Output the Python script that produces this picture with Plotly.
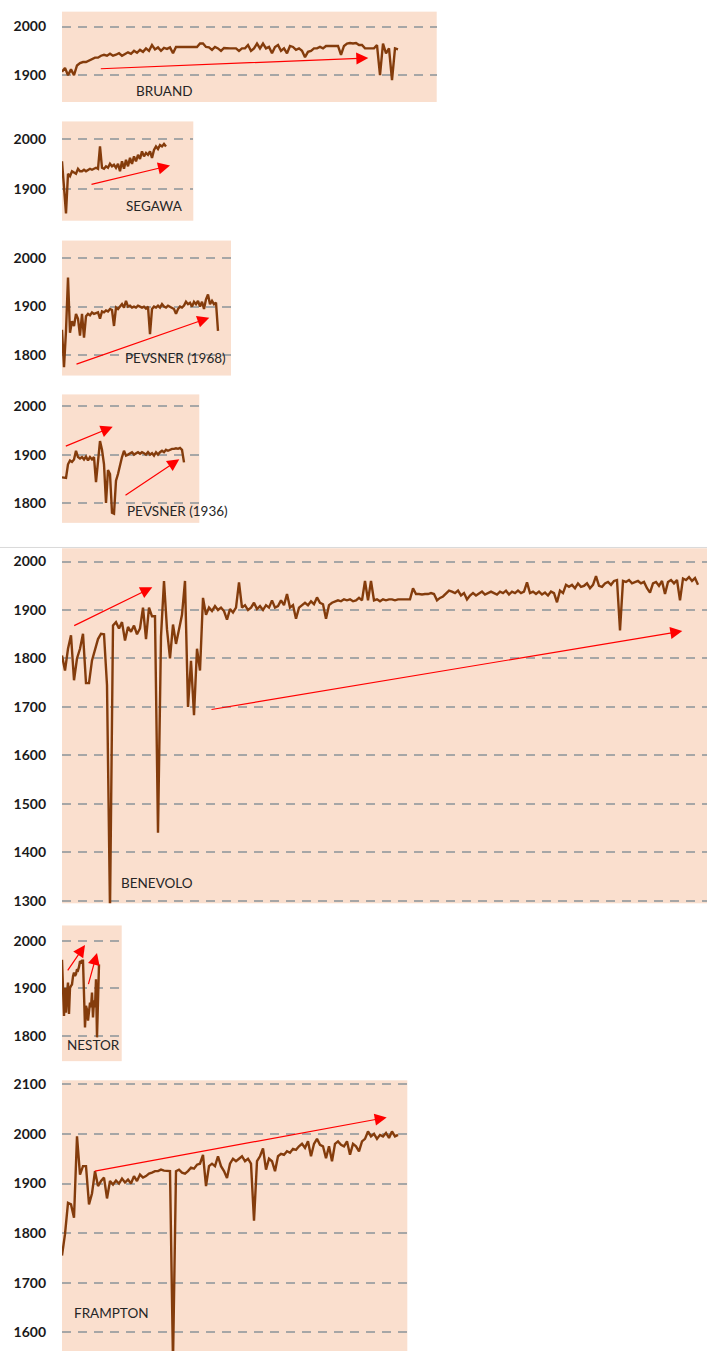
import plotly.graph_objects as go

# ---- yearly series per author, in the order the works are listed ----
bruand = [
    1907, 1915, 1900, 1912, 1900, 1920, 1925, 1927, 1927, 1930,
    1933, 1936, 1936, 1940, 1942, 1940, 1944, 1940, 1942, 1945,
    1940, 1943, 1947, 1944, 1950, 1946, 1952, 1948, 1955, 1950,
    1962, 1953, 1957, 1950, 1956, 1954, 1957, 1945, 1958, 1958,
    1958, 1958, 1958, 1958, 1958, 1958, 1965, 1965, 1958, 1957,
    1952, 1958, 1955, 1950, 1956, 1955, 1955, 1955, 1955, 1950,
    1955, 1955, 1962, 1950, 1955, 1965, 1955, 1965, 1955, 1958,
    1945, 1958, 1962, 1950, 1955, 1945, 1960, 1958, 1952, 1955,
    1950, 1937, 1948, 1950, 1955, 1955, 1958, 1955, 1960, 1960,
    1960, 1960, 1960, 1942, 1960, 1965, 1966, 1965, 1966, 1962,
    1962, 1955, 1955, 1955, 1955, 1962, 1900, 1965, 1945, 1955,
    1890, 1955, 1953,
]

segawa = [
    1955, 1900, 1850, 1930, 1925, 1935, 1932, 1930, 1940, 1935,
    1935, 1938, 1935, 1937, 1940, 1938, 1940, 1942, 1940, 1985,
    1942, 1940, 1945, 1942, 1950, 1945, 1948, 1942, 1950, 1935,
    1955, 1940, 1958, 1945, 1962, 1950, 1965, 1955, 1968, 1960,
    1975, 1965, 1972, 1968, 1975, 1962, 1978, 1985, 1980, 1988,
    1985, 1990, 1985,
]

pevsner_1968 = [
    1852, 1775, 1850, 1960, 1846, 1870, 1860, 1885, 1875, 1840,
    1885, 1836, 1880, 1885, 1882, 1888, 1885, 1886, 1888, 1875,
    1890, 1888, 1892, 1890, 1895, 1893, 1860, 1898, 1895, 1900,
    1905, 1898, 1912, 1900, 1902, 1898, 1900, 1898, 1902, 1900,
    1898, 1900, 1896, 1900, 1843, 1895, 1900, 1898, 1902, 1898,
    1905, 1900, 1898, 1902, 1900, 1898, 1895, 1885, 1895, 1900,
    1898, 1902, 1910, 1905, 1908, 1900, 1910, 1905, 1912, 1900,
    1910, 1895, 1915, 1925, 1905, 1912, 1905, 1908, 1850,
]

pevsner_1936 = [
    1853, 1853, 1852, 1880, 1888, 1885, 1890, 1908, 1895, 1892,
    1895, 1890, 1896, 1888, 1895, 1890, 1895, 1843, 1895, 1928,
    1910, 1880, 1800, 1868, 1860, 1780, 1778, 1846, 1860, 1880,
    1895, 1908, 1898, 1900, 1902, 1905, 1900, 1903, 1905, 1902,
    1905, 1903, 1900, 1905, 1900, 1903, 1898, 1905, 1900, 1905,
    1908, 1905, 1910, 1908, 1910, 1912, 1912, 1913, 1912, 1914,
    1910, 1884,
]

benevolo = [
    1806, 1775, 1820, 1848, 1755, 1800, 1820, 1851, 1749, 1749,
    1796, 1820, 1840, 1851, 1850, 1745, 1280, 1868, 1875, 1862,
    1875, 1837, 1865, 1855, 1868, 1850, 1862, 1905, 1840, 1905,
    1887, 1887, 1440, 1845, 1960, 1860, 1800, 1870, 1830, 1860,
    1890, 1960, 1700, 1795, 1683, 1820, 1775, 1925, 1890, 1905,
    1898, 1908, 1900, 1905, 1898, 1880, 1902, 1895, 1905, 1957,
    1905, 1910, 1900, 1905, 1915, 1902, 1908, 1900, 1910, 1905,
    1920, 1905, 1908, 1920, 1910, 1933, 1905, 1910, 1882, 1905,
    1910, 1915, 1910, 1918, 1912, 1926, 1915, 1912, 1882, 1910,
    1915, 1918, 1920, 1918, 1922, 1920, 1922, 1918, 1920, 1925,
    1920, 1960, 1920, 1960, 1920, 1922, 1918, 1922, 1920, 1922,
    1922, 1920, 1922, 1922, 1922, 1922, 1922, 1945, 1933, 1933,
    1932, 1933, 1933, 1935, 1933, 1920, 1925, 1928, 1935, 1940,
    1938, 1935, 1940, 1930, 1935, 1922, 1930, 1935, 1930, 1935,
    1938, 1932, 1935, 1938, 1935, 1932, 1938, 1935, 1940, 1932,
    1938, 1935, 1940, 1935, 1938, 1957, 1935, 1938, 1933, 1938,
    1932, 1936, 1930, 1938, 1935, 1916, 1940, 1935, 1952, 1948,
    1952, 1945, 1955, 1948, 1950, 1955, 1945, 1952, 1970, 1950,
    1948, 1955, 1958, 1952, 1960, 1962, 1858, 1960, 1958, 1962,
    1955, 1958, 1960, 1955, 1958, 1945, 1936, 1955, 1958, 1950,
    1960, 1933, 1958, 1962, 1955, 1962, 1920, 1965, 1962, 1968,
    1960, 1966, 1952,
]

nestor = [
    1960, 1898, 1842, 1901, 1849, 1890, 1912, 1846, 1901, 1905,
    1908, 1925, 1933, 1926, 1930, 1940, 1938, 1945, 1957, 1955,
    1958, 1958, 1867, 1818, 1863, 1855, 1832, 1860, 1870, 1860,
    1891, 1839, 1875, 1860, 1919, 1797, 1919, 1950,
]

frampton = [
    1755, 1798, 1861, 1858, 1831, 1995, 1918, 1935, 1935, 1858,
    1880, 1925, 1895, 1905, 1912, 1870, 1905, 1898, 1906, 1900,
    1910, 1902, 1908, 1900, 1915, 1905, 1918, 1912, 1915, 1920,
    1922, 1925, 1925, 1928, 1926, 1925, 1925, 1540, 1925, 1928,
    1922, 1920, 1925, 1932, 1930, 1938, 1940, 1958, 1895, 1935,
    1940, 1935, 1955, 1935, 1925, 1911, 1940, 1950, 1945, 1950,
    1955, 1945, 1950, 1940, 1825, 1945, 1955, 1971, 1928, 1950,
    1945, 1925, 1955, 1960, 1958, 1965, 1962, 1970, 1968, 1975,
    1980, 1972, 1985, 1955, 1980, 1990, 1978, 1975, 1951, 1975,
    1945, 1980, 1985, 1978, 1975, 1985, 1958, 1980, 1975, 1965,
    1985, 1990, 2005, 1995, 2000, 1990, 1998, 1995, 2002, 1992,
    2005, 1995, 1998,
]

series = [bruand, segawa, pevsner_1968, pevsner_1936, benevolo, nestor, frampton]
labels = ["BRUAND", "SEGAWA", "PEVSNER (1968)", "PEVSNER (1936)",
          "BENEVOLO", "NESTOR", "FRAMPTON"]
ticks = [
    [1900, 2000],
    [1900, 2000],
    [1800, 1900, 2000],
    [1800, 1900, 2000],
    list(range(1300, 2001, 100)),
    [1800, 1900, 2000],
    list(range(1600, 2101, 100)),
]
y_ranges = [
    (1845, 2030.5), (1835.4, 2035.4), (1757.8, 2036.2), (1758.9, 2024.6),
    (1294.5, 2027.5), (1747, 2032), (1562.6, 2108),
]

# ---- page layout (pixels) ----
W, H = 707, 1356
# plot boxes: left, right, top, bottom
boxes = [
    (62, 436.7, 6.7, 97.7),
    (62, 193.3, 117.3, 217.3),
    (62, 231.0, 237.3, 373.3),
    (62, 199.3, 392.3, 521.7),
    (62, 707.0, 547.3, 905.0),
    (62, 121.7, 927.3, 1064.0),
    (62, 407.3, 1083.3, 1356.0),
]
# horizontal pixels per entry
steps = [3, 2, 2, 2, 3, 1, 3]
# label centres
label_pos = [(164, 87), (154.5, 202.5), (175.5, 355.5), (177.5, 510),
             (157, 885), (93.5, 1048), (111, 1317.5)]
# trend arrows: panel, tail (px), head (px)
arrows = [
    (0, (99.3, 64.3), (368.3, 53.3)),
    (1, (90, 181), (170, 161.7)),
    (2, (75, 362.3), (209.3, 315)),
    (3, (64.3, 445), (112.7, 425)),
    (3, (124, 495), (179.3, 457.7)),
    (4, (72.7, 626), (152.3, 586.7)),
    (4, (210, 710), (682.3, 630.7)),
    (5, (66.7, 974), (85, 947)),
    (5, (88, 988), (97, 955)),
    (6, (93.3, 1175), (386.7, 1120.7)),
]

LINE = "#843C0C"
BG = "#FADFCE"
GRID = "#A6A6A6"

fig = go.Figure()
layout = dict(
    width=W, height=H,
    margin=dict(l=0, r=0, t=0, b=0),
    paper_bgcolor="white",
    plot_bgcolor=BG,
    showlegend=False,
    annotations=[],
    shapes=[],
)

x_ranges = []
for k, (vals, box, step, yr, tv) in enumerate(zip(series, boxes, steps, y_ranges, ticks)):
    L, R, T, B = box
    xr = (0, (R - L) / step)
    x_ranges.append(xr)
    sfx = "" if k == 0 else str(k + 1)
    fig.add_trace(go.Scatter(
        x=list(range(len(vals))), y=vals, mode="lines",
        line=dict(color=LINE, width=2.4),
        xaxis="x" + sfx, yaxis="y" + sfx, hoverinfo="skip",
    ))
    layout["xaxis" + sfx] = dict(
        domain=[L / W, R / W], range=list(xr), visible=False,
        anchor="y" + sfx, fixedrange=True,
    )
    layout["yaxis" + sfx] = dict(
        domain=[1 - B / H, 1 - T / H], range=list(yr), anchor="x" + sfx,
        tickvals=tv, showgrid=True, gridcolor=GRID, gridwidth=2,
        griddash="9px,7px", zeroline=False, showline=False, ticks="",
        ticklabelstandoff=15,
        tickfont=dict(family="Lato", size=14, color="#1A1A1A", weight="bold"),
        fixedrange=True,
    )
    cx, cy = label_pos[k]
    layout["annotations"].append(dict(
        text=labels[k], x=cx / W, y=1 - cy / H, xref="paper", yref="paper",
        xanchor="center", yanchor="middle", showarrow=False,
        font=dict(family="Lato", size=13.5, color="#262626"),
    ))


def to_data(k, px, py):
    L, R, T, B = boxes[k]
    x0, x1 = x_ranges[k]
    y0, y1 = y_ranges[k]
    return (x0 + (px - L) / (R - L) * (x1 - x0),
            y1 - (py - T) / (B - T) * (y1 - y0))


for k, tail, head in arrows:
    sfx = "" if k == 0 else str(k + 1)
    hx, hy = to_data(k, *head)
    tx, ty = to_data(k, *tail)
    layout["annotations"].append(dict(
        x=hx, y=hy, ax=tx, ay=ty,
        xref="x" + sfx, yref="y" + sfx, axref="x" + sfx, ayref="y" + sfx,
        text="", showarrow=True, arrowhead=2, arrowsize=2.0,
        arrowwidth=1.2, arrowcolor="#FF0000", standoff=0,
    ))

# thin separator above the long panel
layout["shapes"].append(dict(
    type="line", xref="paper", yref="paper", x0=0, x1=1,
    y0=1 - 546.5 / H, y1=1 - 546.5 / H, line=dict(color="#D9D9D9", width=1),
))

fig.update_layout(**layout)
fig.write_html("out.html")
